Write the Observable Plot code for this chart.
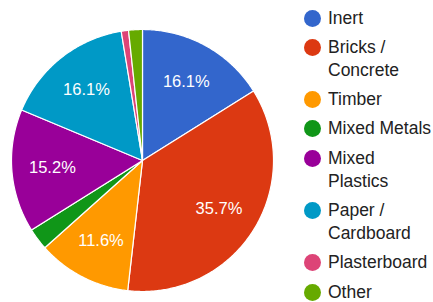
<!DOCTYPE html>
<html>
<head>
<meta charset="utf-8">
<script src="https://cdn.jsdelivr.net/npm/d3@7"></script>
<script src="https://cdn.jsdelivr.net/npm/@observablehq/plot@0.6"></script>
<style>
  html, body { margin: 0; padding: 0; background: #fff; }
  #wrap { position: relative; width: 433px; height: 302px; font-family: "Liberation Sans", Arial, sans-serif; }
  #chart { position: absolute; left: 0; top: 0; }
  #legend { position: absolute; left: 304px; top: 6.5px; width: 129px; }
  .item { display: flex; align-items: flex-start; margin-bottom: 6.3px; }
  .sw { width: 17px; height: 17px; border-radius: 50%; flex: none; margin-top: 3px; margin-right: 7px; }
  .lab { font-size: 17.5px; line-height: 23px; color: #222; width: 105px; }
</style>
</head>
<body>
<div id="wrap"><div id="chart"></div><div id="legend"></div></div>
<script>
const categories = ["Inert", "Bricks / Concrete", "Timber", "Mixed Metals", "Mixed Plastics", "Paper / Cardboard", "Plasterboard", "Other"];
const values = [16.1, 35.7, 11.6, 2.7, 15.2, 16.1, 0.9, 1.7];
const colors = ["#3366cc", "#dc3912", "#ff9900", "#109618", "#990099", "#0099c6", "#dd4477", "#66aa00"];

const data = categories.map((name, i) => ({name, value: values[i]}));
const total = d3.sum(values);
const arcs = d3.pie().sort(null).value(d => d.value)(data);

function ring(a0, a1) {
  const n = Math.max(2, Math.ceil((a1 - a0) / 0.01));
  const pts = [[0, 0]];
  for (let k = 0; k <= n; k++) {
    const a = a0 + (a1 - a0) * k / n;
    pts.push([Math.sin(a), -Math.cos(a)]);
  }
  pts.push([0, 0]);
  return pts;
}
const slices = arcs.map(a => ({
  name: a.data.name,
  value: a.data.value,
  geometry: {type: "Polygon", coordinates: [ring(a.startAngle, a.endAngle)]}
}));
const labels = arcs.filter(a => a.data.value / total >= 0.05).map(a => {
  const m = (a.startAngle + a.endAngle) / 2;
  return {x: 0.69 * Math.sin(m), y: -0.69 * Math.cos(m), text: (100 * a.data.value / total).toFixed(1) + "%"};
});
const disc = {type: "MultiPoint", coordinates: [[-1, -1], [1, 1]]};

const chart = Plot.plot({
  width: 290,
  height: 302,
  marginLeft: 11,
  marginRight: 17,
  marginTop: 29,
  marginBottom: 11,
  projection: {type: "identity", domain: disc},
  color: {domain: categories, range: colors},
  style: {background: "transparent", fontFamily: "'Liberation Sans', Arial, sans-serif"},
  marks: [
    Plot.geo(slices, {geometry: d => d.geometry, fill: d => d.name, stroke: "white", strokeWidth: 1.2}),
    Plot.text(labels, {x: "x", y: "y", text: "text", fill: "white", fontSize: 16.5})
  ]
});
document.getElementById("chart").appendChild(chart);

const legend = document.getElementById("legend");
categories.forEach((c, i) => {
  const item = document.createElement("div");
  item.className = "item";
  const sw = document.createElement("div");
  sw.className = "sw";
  sw.style.background = colors[i];
  const lab = document.createElement("div");
  lab.className = "lab";
  lab.textContent = c;
  item.appendChild(sw);
  item.appendChild(lab);
  legend.appendChild(item);
});
</script>
</body>
</html>
